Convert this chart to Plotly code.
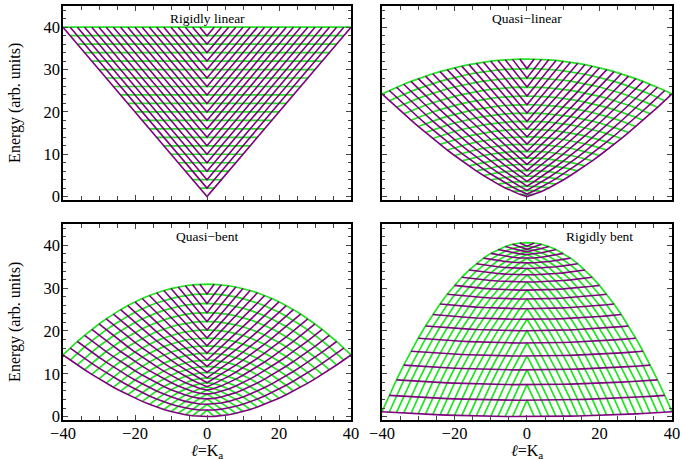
import numpy as np
import plotly.graph_objects as go

# ---- data / model parameters ----
panel_titles = ["Rigidly linear", "Quasi\u2212linear", "Quasi\u2212bent", "Rigidly bent"]
xi_values = [0.0, 0.2, 0.4, 0.945]         # linear -> bent control parameter per panel
n_max = 40                                  # highest polyad (top of the rigidly linear panel)
l_values = list(range(-40, 41, 2))          # l = K_a values shown
x_ticks = [-40, -20, 0, 20, 40]
y_ticks = [0, 10, 20, 30, 40]
x_title = "<i>\u2113</i>=K<sub>a</sub>"
y_title = "Energy (arb. units)"

PURPLE = "#800080"
GREEN = "#1ee61e"
FONT = "Liberation Serif"


def level_table(xi, N):
    """eigen-energies for every l of a U(3) bending Hamiltonian"""
    table = {}
    for l in l_values:
        ns = list(range(abs(l), N + 1, 2))
        m = len(ns)
        H = np.zeros((m, m))
        for i, n in enumerate(ns):
            w2 = (N - n) * (n + 2) + (N - n + 1) * n + l * l
            H[i, i] = (1 - xi) * n + xi / (N - 1) * (N * (N + 1) - w2)
            if i + 1 < m:
                off = np.sqrt((N - n) * (N - n - 1) * (n + l + 2) * (n - l + 2))
                H[i, i + 1] = H[i + 1, i] = xi / (N - 1) * off
        table[l] = np.sort(np.linalg.eigvalsh(H))
    e0 = min(v[0] for v in table.values())
    return {l: v - e0 for l, v in table.items()}


fig = go.Figure()
doms_x = [[0, 0.4729], [0.5238, 1.0], [0, 0.4729], [0.5238, 1.0]]
doms_y = [[0.5314, 1.0], [0.5314, 1.0], [0.0, 0.4734], [0.0, 0.4734]]

for p, xi in enumerate(xi_values):
    tab = level_table(xi, n_max)
    ax = "" if p == 0 else str(p + 1)
    # green: constant polyad n
    gx, gy = [], []
    for n in range(2, n_max + 1, 2):
        for l in l_values:
            if abs(l) <= n:
                gx.append(l)
                gy.append(tab[l][(n - abs(l)) // 2])
        gx.append(None)
        gy.append(None)
    # purple: constant bending quantum number
    px, py = [], []
    for i in range(0, n_max // 2 + 1):
        for l in l_values:
            if len(tab[l]) > i:
                px.append(l)
                py.append(tab[l][i])
        px.append(None)
        py.append(None)
    fig.add_trace(go.Scatter(x=gx, y=gy, mode="lines", line=dict(color=GREEN, width=1.7),
                             xaxis="x" + ax, yaxis="y" + ax, showlegend=False, hoverinfo="skip"))
    fig.add_trace(go.Scatter(x=px, y=py, mode="lines", line=dict(color=PURPLE, width=1.6),
                             xaxis="x" + ax, yaxis="y" + ax, showlegend=False, hoverinfo="skip"))

layout = dict(
    width=683, height=460,
    margin=dict(l=63, r=11, t=6, b=40, autoexpand=False),
    paper_bgcolor="white", plot_bgcolor="white",
    font=dict(family=FONT, size=16, color="black"),
)
for p in range(4):
    ax = "" if p == 0 else str(p + 1)
    bottom = p >= 2
    left = p % 2 == 0
    layout["xaxis" + ax] = dict(
        domain=doms_x[p], anchor="y" + ax, range=[-40, 40],
        tickvals=x_ticks, ticktext=[str(v).replace("-", "\u2212") for v in x_ticks],
        showticklabels=bottom, ticks="inside", ticklen=5, tickwidth=1.2,
        minor=dict(dtick=5, ticks="inside", ticklen=4, tickwidth=1.2, tick0=0),
        showline=True, linecolor="black", linewidth=1.5, mirror="ticks",
        showgrid=False, zeroline=False, automargin=False, ticklabelstandoff=-3,
        tickfont=dict(family=FONT, size=16.5, color="black"),
    )
    layout["yaxis" + ax] = dict(
        domain=doms_y[p], anchor="x" + ax, range=[-0.8, 45],
        tickvals=y_ticks, showticklabels=left, ticks="inside", ticklen=5, tickwidth=1.2,
        minor=dict(dtick=2, ticks="inside", ticklen=3, tickwidth=1.2, tick0=0),
        showline=True, linecolor="black", linewidth=1.5, mirror="ticks",
        showgrid=False, zeroline=False, automargin=False, ticklabelstandoff=-2,
        tickfont=dict(family=FONT, size=16.5, color="black"),
    )
fig.update_layout(**layout)

label_pos = [(0.0, 44.2), (0.0, 44.2), (0.0, 44.2), (20.0, 44.2)]
for p, (lx, ly) in enumerate(label_pos):
    ax = "" if p == 0 else str(p + 1)
    fig.add_annotation(x=lx, y=ly, xref="x" + ax, yref="y" + ax, text=panel_titles[p],
                       showarrow=False, yanchor="top", xanchor="center",
                       font=dict(family=FONT, size=13.5, color="black"))

# axis titles
for cx in [sum(doms_x[2]) / 2, sum(doms_x[3]) / 2]:
    fig.add_annotation(x=cx, y=-0.075, xref="paper", yref="paper", text=x_title,
                       showarrow=False, yanchor="middle", xanchor="center",
                       font=dict(family=FONT, size=16, color="black"))
for cy in [sum(doms_y[0]) / 2, sum(doms_y[2]) / 2]:
    fig.add_annotation(x=-0.079, y=cy, xref="paper", yref="paper", text=y_title,
                       showarrow=False, textangle=-90, xanchor="center", yanchor="middle",
                       font=dict(family=FONT, size=16, color="black"))

fig.write_html("out.html", config={"displayModeBar": False},
               post_script="document.body.style.margin='0';")
